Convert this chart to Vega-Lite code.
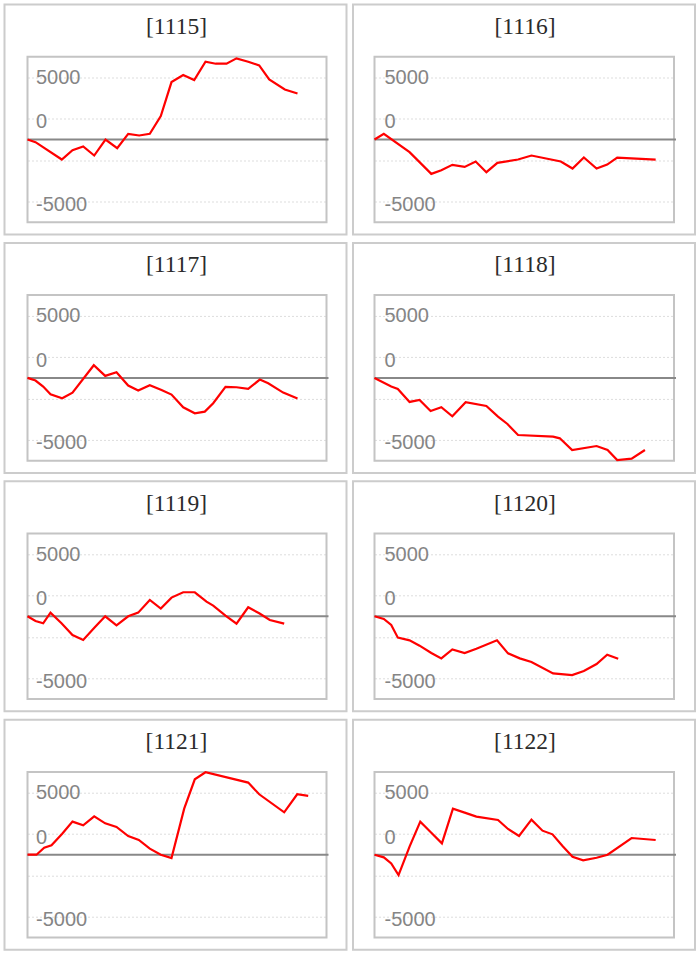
{
  "$schema": "https://vega.github.io/schema/vega-lite/v6.json",
  "background": "white",
  "padding": {"left": 3.5, "top": 3.5, "right": 0, "bottom": 0},
  "datasets": {
    "series": [
      {"day": "1115", "t": 0, "v": 0}, {"day": "1115", "t": 8, "v": -215}, {"day": "1115", "t": 34.3, "v": -1613}, {"day": "1115", "t": 45, "v": -860}, {"day": "1115", "t": 55.7, "v": -565}, {"day": "1115", "t": 66.7, "v": -1290}, {"day": "1115", "t": 78, "v": 0}, {"day": "1115", "t": 89.7, "v": -699}, {"day": "1115", "t": 100.7, "v": 457}, {"day": "1115", "t": 111.7, "v": 323}, {"day": "1115", "t": 122.3, "v": 457}, {"day": "1115", "t": 133.3, "v": 1882}, {"day": "1115", "t": 144, "v": 4623}, {"day": "1115", "t": 155.7, "v": 5188}, {"day": "1115", "t": 166.7, "v": 4785}, {"day": "1115", "t": 178, "v": 6263}, {"day": "1115", "t": 188.3, "v": 6102}, {"day": "1115", "t": 199, "v": 6102}, {"day": "1115", "t": 209, "v": 6532}, {"day": "1115", "t": 220.7, "v": 6263}, {"day": "1115", "t": 231.7, "v": 5968}, {"day": "1115", "t": 241.7, "v": 4838}, {"day": "1115", "t": 257.3, "v": 4032}, {"day": "1115", "t": 270, "v": 3709},
      {"day": "1116", "t": 0, "v": 0}, {"day": "1116", "t": 9.3, "v": 457}, {"day": "1116", "t": 35, "v": -1021}, {"day": "1116", "t": 56.7, "v": -2769}, {"day": "1116", "t": 66.7, "v": -2473}, {"day": "1116", "t": 77.7, "v": -2043}, {"day": "1116", "t": 90, "v": -2204}, {"day": "1116", "t": 101, "v": -1774}, {"day": "1116", "t": 111.7, "v": -2634}, {"day": "1116", "t": 122.7, "v": -1882}, {"day": "1116", "t": 143.3, "v": -1613}, {"day": "1116", "t": 156.7, "v": -1290}, {"day": "1116", "t": 186, "v": -1774}, {"day": "1116", "t": 197.7, "v": -2339}, {"day": "1116", "t": 209, "v": -1452}, {"day": "1116", "t": 221.7, "v": -2339}, {"day": "1116", "t": 232.3, "v": -2016}, {"day": "1116", "t": 242.3, "v": -1452}, {"day": "1116", "t": 280.7, "v": -1613},
      {"day": "1117", "t": 0, "v": 0}, {"day": "1117", "t": 8, "v": -215}, {"day": "1117", "t": 15.7, "v": -699}, {"day": "1117", "t": 23, "v": -1317}, {"day": "1117", "t": 34.7, "v": -1640}, {"day": "1117", "t": 45, "v": -1183}, {"day": "1117", "t": 66.3, "v": 1021}, {"day": "1117", "t": 77.7, "v": 161}, {"day": "1117", "t": 89, "v": 457}, {"day": "1117", "t": 100.7, "v": -618}, {"day": "1117", "t": 110.7, "v": -1021}, {"day": "1117", "t": 122.3, "v": -591}, {"day": "1117", "t": 134, "v": -968}, {"day": "1117", "t": 144, "v": -1344}, {"day": "1117", "t": 155.7, "v": -2365}, {"day": "1117", "t": 167.3, "v": -2849}, {"day": "1117", "t": 177.3, "v": -2715}, {"day": "1117", "t": 185.7, "v": -2043}, {"day": "1117", "t": 198, "v": -726}, {"day": "1117", "t": 209, "v": -753}, {"day": "1117", "t": 220.7, "v": -887}, {"day": "1117", "t": 232.3, "v": -134}, {"day": "1117", "t": 240.7, "v": -430}, {"day": "1117", "t": 255.7, "v": -1183}, {"day": "1117", "t": 270, "v": -1667},
      {"day": "1118", "t": 0, "v": 0}, {"day": "1118", "t": 16.7, "v": -699}, {"day": "1118", "t": 23.3, "v": -887}, {"day": "1118", "t": 35, "v": -1935}, {"day": "1118", "t": 45, "v": -1774}, {"day": "1118", "t": 56, "v": -2661}, {"day": "1118", "t": 66.7, "v": -2365}, {"day": "1118", "t": 77.7, "v": -3091}, {"day": "1118", "t": 91, "v": -1962}, {"day": "1118", "t": 111.7, "v": -2258}, {"day": "1118", "t": 123.3, "v": -3118}, {"day": "1118", "t": 132.7, "v": -3709}, {"day": "1118", "t": 143.3, "v": -4596}, {"day": "1118", "t": 178.3, "v": -4731}, {"day": "1118", "t": 185, "v": -4865}, {"day": "1118", "t": 197.3, "v": -5806}, {"day": "1118", "t": 221.7, "v": -5484}, {"day": "1118", "t": 232.7, "v": -5806}, {"day": "1118", "t": 242.3, "v": -6612}, {"day": "1118", "t": 256.7, "v": -6505}, {"day": "1118", "t": 270, "v": -5806},
      {"day": "1119", "t": 0, "v": 0}, {"day": "1119", "t": 8, "v": -376}, {"day": "1119", "t": 15.7, "v": -564}, {"day": "1119", "t": 23, "v": 296}, {"day": "1119", "t": 34, "v": -564}, {"day": "1119", "t": 45, "v": -1505}, {"day": "1119", "t": 55.7, "v": -1908}, {"day": "1119", "t": 67.3, "v": -887}, {"day": "1119", "t": 77.7, "v": 0}, {"day": "1119", "t": 89, "v": -726}, {"day": "1119", "t": 100.7, "v": 0}, {"day": "1119", "t": 110.7, "v": 296}, {"day": "1119", "t": 122.3, "v": 1317}, {"day": "1119", "t": 133.3, "v": 618}, {"day": "1119", "t": 144, "v": 1505}, {"day": "1119", "t": 155.7, "v": 1935}, {"day": "1119", "t": 167.3, "v": 1935}, {"day": "1119", "t": 179, "v": 1183}, {"day": "1119", "t": 185.7, "v": 860}, {"day": "1119", "t": 198, "v": 54}, {"day": "1119", "t": 209, "v": -591}, {"day": "1119", "t": 220.7, "v": 726}, {"day": "1119", "t": 231.7, "v": 242}, {"day": "1119", "t": 242.3, "v": -296}, {"day": "1119", "t": 256.7, "v": -591},
      {"day": "1120", "t": 0, "v": 0}, {"day": "1120", "t": 9.3, "v": -215}, {"day": "1120", "t": 16.7, "v": -699}, {"day": "1120", "t": 23.3, "v": -1720}, {"day": "1120", "t": 35, "v": -1935}, {"day": "1120", "t": 45, "v": -2365}, {"day": "1120", "t": 56.7, "v": -2957}, {"day": "1120", "t": 66.7, "v": -3387}, {"day": "1120", "t": 77.7, "v": -2661}, {"day": "1120", "t": 90, "v": -2957}, {"day": "1120", "t": 101.7, "v": -2607}, {"day": "1120", "t": 122.3, "v": -1935}, {"day": "1120", "t": 133.3, "v": -2984}, {"day": "1120", "t": 145, "v": -3387}, {"day": "1120", "t": 156.7, "v": -3683}, {"day": "1120", "t": 178.3, "v": -4596}, {"day": "1120", "t": 197.3, "v": -4731}, {"day": "1120", "t": 209, "v": -4409}, {"day": "1120", "t": 221.7, "v": -3844}, {"day": "1120", "t": 232.3, "v": -3091}, {"day": "1120", "t": 243.3, "v": -3414},
      {"day": "1121", "t": 0, "v": 0}, {"day": "1121", "t": 9, "v": 0}, {"day": "1121", "t": 16.7, "v": 564}, {"day": "1121", "t": 24, "v": 753}, {"day": "1121", "t": 34.7, "v": 1693}, {"day": "1121", "t": 45, "v": 2661}, {"day": "1121", "t": 55.7, "v": 2365}, {"day": "1121", "t": 66.7, "v": 3091}, {"day": "1121", "t": 77.7, "v": 2527}, {"day": "1121", "t": 89, "v": 2231}, {"day": "1121", "t": 100.7, "v": 1505}, {"day": "1121", "t": 111.3, "v": 1183}, {"day": "1121", "t": 122.3, "v": 484}, {"day": "1121", "t": 133.3, "v": 0}, {"day": "1121", "t": 144, "v": -269}, {"day": "1121", "t": 156.7, "v": 3709}, {"day": "1121", "t": 167.3, "v": 6075}, {"day": "1121", "t": 178, "v": 6640}, {"day": "1121", "t": 220.7, "v": 5806}, {"day": "1121", "t": 231.7, "v": 4865}, {"day": "1121", "t": 256.7, "v": 3414}, {"day": "1121", "t": 269.7, "v": 4865}, {"day": "1121", "t": 280.7, "v": 4731},
      {"day": "1122", "t": 0, "v": 0}, {"day": "1122", "t": 9.3, "v": -215}, {"day": "1122", "t": 16.7, "v": -699}, {"day": "1122", "t": 24, "v": -1640}, {"day": "1122", "t": 35, "v": 645}, {"day": "1122", "t": 45.7, "v": 2661}, {"day": "1122", "t": 56.7, "v": 1774}, {"day": "1122", "t": 67.3, "v": 914}, {"day": "1122", "t": 78.3, "v": 3709}, {"day": "1122", "t": 90, "v": 3387}, {"day": "1122", "t": 101.7, "v": 3064}, {"day": "1122", "t": 123.3, "v": 2796}, {"day": "1122", "t": 133.3, "v": 2070}, {"day": "1122", "t": 144.3, "v": 1505}, {"day": "1122", "t": 156.7, "v": 2822}, {"day": "1122", "t": 167.7, "v": 1935}, {"day": "1122", "t": 177.7, "v": 1640}, {"day": "1122", "t": 187.7, "v": 699}, {"day": "1122", "t": 197.7, "v": -161}, {"day": "1122", "t": 208.3, "v": -457}, {"day": "1122", "t": 221.7, "v": -242}, {"day": "1122", "t": 232.7, "v": 0}, {"day": "1122", "t": 256.7, "v": 1344}, {"day": "1122", "t": 280.7, "v": 1183}
    ],
    "frame": [{"k": 1}]
  },
  "columns": 2,
  "spacing": {"column": 4.5, "row": 6.4},
  "config": {
    "view": {"stroke": "#cccccc", "strokeWidth": 2},
    "line": {"color": "#ff0000", "strokeWidth": 2.2},
    "rule": {"color": "#888888", "strokeWidth": 2},
    "title": {"font": "Liberation Serif", "fontSize": 23.5, "fontWeight": "normal", "color": "#2b2b2b", "anchor": "middle", "offset": -34, "baseline": "alphabetic", "dx": 1},
    "axisY": {
      "domain": false,
      "ticks": false,
      "grid": true,
      "gridColor": "#dddddd",
      "gridDash": [2, 2],
      "gridWidth": 1,
      "labelAlign": "left",
      "labelBaseline": "middle",
      "labelPadding": -31,
      "labelOffset": {"condition": {"test": "datum.value < 3000", "value": 3}, "value": 0},
      "labelFont": "Liberation Sans",
      "labelFontSize": 20,
      "labelColor": "#858585",
      "labelOverlap": false,
      "labelBound": false,
      "title": null
    }
  },
  "concat": [
    {"width": 342, "height": 230, "title": {"text": "[1115]"},
      "layer": [
        {"data": {"name": "frame"}, "mark": {"type": "rect", "filled": false, "stroke": "#c4c4c4", "strokeWidth": 2},
          "encoding": {"x": {"datum": 0, "type": "quantitative", "scale": {"domain": [0, 299], "range": [23, 322], "nice": false, "zero": false}, "axis": null}, "x2": {"datum": 299}, "y": {"datum": -6667, "type": "quantitative", "scale": {"domain": [-6667, 6667], "range": [217.8, 52.2], "nice": false, "zero": false}, "axis": {"values": [-5000, -3333.333, -1666.667, 0, 1666.667, 3333.333, 5000], "labelExpr": "abs(datum.value-5000)<1 ? '5000' : abs(datum.value-1666.667)<1 ? '0' : abs(datum.value+5000)<1 ? '-5000' : ''"}}, "y2": {"datum": 6667}}},
        {"data": {"name": "frame"}, "mark": "rule", "encoding": {"x": {"datum": 0}, "x2": {"datum": 301}, "y": {"datum": 0}}},
        {"data": {"name": "series"}, "transform": [{"filter": "datum.day == '1115'"}], "mark": "line",
          "encoding": {"x": {"field": "t", "type": "quantitative"}, "y": {"field": "v", "type": "quantitative"}}}
      ]},
    {"width": 342, "height": 230, "title": {"text": "[1116]"},
      "layer": [
        {"data": {"name": "frame"}, "mark": {"type": "rect", "filled": false, "stroke": "#c4c4c4", "strokeWidth": 2},
          "encoding": {"x": {"datum": 0, "type": "quantitative", "scale": {"domain": [0, 299], "range": [21.5, 321], "nice": false, "zero": false}, "axis": null}, "x2": {"datum": 299}, "y": {"datum": -6667, "type": "quantitative", "scale": {"domain": [-6667, 6667], "range": [217.8, 52.2], "nice": false, "zero": false}, "axis": {"values": [-5000, -3333.333, -1666.667, 0, 1666.667, 3333.333, 5000], "labelExpr": "abs(datum.value-5000)<1 ? '5000' : abs(datum.value-1666.667)<1 ? '0' : abs(datum.value+5000)<1 ? '-5000' : ''"}}, "y2": {"datum": 6667}}},
        {"data": {"name": "frame"}, "mark": "rule", "encoding": {"x": {"datum": 0}, "x2": {"datum": 301}, "y": {"datum": 0}}},
        {"data": {"name": "series"}, "transform": [{"filter": "datum.day == '1116'"}], "mark": "line",
          "encoding": {"x": {"field": "t", "type": "quantitative"}, "y": {"field": "v", "type": "quantitative"}}}
      ]},
    {"width": 342, "height": 230, "title": {"text": "[1117]"},
      "layer": [
        {"data": {"name": "frame"}, "mark": {"type": "rect", "filled": false, "stroke": "#c4c4c4", "strokeWidth": 2},
          "encoding": {"x": {"datum": 0, "type": "quantitative", "scale": {"domain": [0, 299], "range": [23, 322], "nice": false, "zero": false}, "axis": null}, "x2": {"datum": 299}, "y": {"datum": -6667, "type": "quantitative", "scale": {"domain": [-6667, 6667], "range": [217.8, 52.2], "nice": false, "zero": false}, "axis": {"values": [-5000, -3333.333, -1666.667, 0, 1666.667, 3333.333, 5000], "labelExpr": "abs(datum.value-5000)<1 ? '5000' : abs(datum.value-1666.667)<1 ? '0' : abs(datum.value+5000)<1 ? '-5000' : ''"}}, "y2": {"datum": 6667}}},
        {"data": {"name": "frame"}, "mark": "rule", "encoding": {"x": {"datum": 0}, "x2": {"datum": 301}, "y": {"datum": 0}}},
        {"data": {"name": "series"}, "transform": [{"filter": "datum.day == '1117'"}], "mark": "line",
          "encoding": {"x": {"field": "t", "type": "quantitative"}, "y": {"field": "v", "type": "quantitative"}}}
      ]},
    {"width": 342, "height": 230, "title": {"text": "[1118]"},
      "layer": [
        {"data": {"name": "frame"}, "mark": {"type": "rect", "filled": false, "stroke": "#c4c4c4", "strokeWidth": 2},
          "encoding": {"x": {"datum": 0, "type": "quantitative", "scale": {"domain": [0, 299], "range": [21.5, 321], "nice": false, "zero": false}, "axis": null}, "x2": {"datum": 299}, "y": {"datum": -6667, "type": "quantitative", "scale": {"domain": [-6667, 6667], "range": [217.8, 52.2], "nice": false, "zero": false}, "axis": {"values": [-5000, -3333.333, -1666.667, 0, 1666.667, 3333.333, 5000], "labelExpr": "abs(datum.value-5000)<1 ? '5000' : abs(datum.value-1666.667)<1 ? '0' : abs(datum.value+5000)<1 ? '-5000' : ''"}}, "y2": {"datum": 6667}}},
        {"data": {"name": "frame"}, "mark": "rule", "encoding": {"x": {"datum": 0}, "x2": {"datum": 301}, "y": {"datum": 0}}},
        {"data": {"name": "series"}, "transform": [{"filter": "datum.day == '1118'"}], "mark": "line",
          "encoding": {"x": {"field": "t", "type": "quantitative"}, "y": {"field": "v", "type": "quantitative"}}}
      ]},
    {"width": 342, "height": 230, "title": {"text": "[1119]"},
      "layer": [
        {"data": {"name": "frame"}, "mark": {"type": "rect", "filled": false, "stroke": "#c4c4c4", "strokeWidth": 2},
          "encoding": {"x": {"datum": 0, "type": "quantitative", "scale": {"domain": [0, 299], "range": [23, 322], "nice": false, "zero": false}, "axis": null}, "x2": {"datum": 299}, "y": {"datum": -6667, "type": "quantitative", "scale": {"domain": [-6667, 6667], "range": [217.8, 52.2], "nice": false, "zero": false}, "axis": {"values": [-5000, -3333.333, -1666.667, 0, 1666.667, 3333.333, 5000], "labelExpr": "abs(datum.value-5000)<1 ? '5000' : abs(datum.value-1666.667)<1 ? '0' : abs(datum.value+5000)<1 ? '-5000' : ''"}}, "y2": {"datum": 6667}}},
        {"data": {"name": "frame"}, "mark": "rule", "encoding": {"x": {"datum": 0}, "x2": {"datum": 301}, "y": {"datum": 0}}},
        {"data": {"name": "series"}, "transform": [{"filter": "datum.day == '1119'"}], "mark": "line",
          "encoding": {"x": {"field": "t", "type": "quantitative"}, "y": {"field": "v", "type": "quantitative"}}}
      ]},
    {"width": 342, "height": 230, "title": {"text": "[1120]"},
      "layer": [
        {"data": {"name": "frame"}, "mark": {"type": "rect", "filled": false, "stroke": "#c4c4c4", "strokeWidth": 2},
          "encoding": {"x": {"datum": 0, "type": "quantitative", "scale": {"domain": [0, 299], "range": [21.5, 321], "nice": false, "zero": false}, "axis": null}, "x2": {"datum": 299}, "y": {"datum": -6667, "type": "quantitative", "scale": {"domain": [-6667, 6667], "range": [217.8, 52.2], "nice": false, "zero": false}, "axis": {"values": [-5000, -3333.333, -1666.667, 0, 1666.667, 3333.333, 5000], "labelExpr": "abs(datum.value-5000)<1 ? '5000' : abs(datum.value-1666.667)<1 ? '0' : abs(datum.value+5000)<1 ? '-5000' : ''"}}, "y2": {"datum": 6667}}},
        {"data": {"name": "frame"}, "mark": "rule", "encoding": {"x": {"datum": 0}, "x2": {"datum": 301}, "y": {"datum": 0}}},
        {"data": {"name": "series"}, "transform": [{"filter": "datum.day == '1120'"}], "mark": "line",
          "encoding": {"x": {"field": "t", "type": "quantitative"}, "y": {"field": "v", "type": "quantitative"}}}
      ]},
    {"width": 342, "height": 230, "title": {"text": "[1121]"},
      "layer": [
        {"data": {"name": "frame"}, "mark": {"type": "rect", "filled": false, "stroke": "#c4c4c4", "strokeWidth": 2},
          "encoding": {"x": {"datum": 0, "type": "quantitative", "scale": {"domain": [0, 299], "range": [23, 322], "nice": false, "zero": false}, "axis": null}, "x2": {"datum": 299}, "y": {"datum": -6667, "type": "quantitative", "scale": {"domain": [-6667, 6667], "range": [217.8, 52.2], "nice": false, "zero": false}, "axis": {"values": [-5000, -3333.333, -1666.667, 0, 1666.667, 3333.333, 5000], "labelExpr": "abs(datum.value-5000)<1 ? '5000' : abs(datum.value-1666.667)<1 ? '0' : abs(datum.value+5000)<1 ? '-5000' : ''"}}, "y2": {"datum": 6667}}},
        {"data": {"name": "frame"}, "mark": "rule", "encoding": {"x": {"datum": 0}, "x2": {"datum": 301}, "y": {"datum": 0}}},
        {"data": {"name": "series"}, "transform": [{"filter": "datum.day == '1121'"}], "mark": "line",
          "encoding": {"x": {"field": "t", "type": "quantitative"}, "y": {"field": "v", "type": "quantitative"}}}
      ]},
    {"width": 342, "height": 230, "title": {"text": "[1122]"},
      "layer": [
        {"data": {"name": "frame"}, "mark": {"type": "rect", "filled": false, "stroke": "#c4c4c4", "strokeWidth": 2},
          "encoding": {"x": {"datum": 0, "type": "quantitative", "scale": {"domain": [0, 299], "range": [21.5, 321], "nice": false, "zero": false}, "axis": null}, "x2": {"datum": 299}, "y": {"datum": -6667, "type": "quantitative", "scale": {"domain": [-6667, 6667], "range": [217.8, 52.2], "nice": false, "zero": false}, "axis": {"values": [-5000, -3333.333, -1666.667, 0, 1666.667, 3333.333, 5000], "labelExpr": "abs(datum.value-5000)<1 ? '5000' : abs(datum.value-1666.667)<1 ? '0' : abs(datum.value+5000)<1 ? '-5000' : ''"}}, "y2": {"datum": 6667}}},
        {"data": {"name": "frame"}, "mark": "rule", "encoding": {"x": {"datum": 0}, "x2": {"datum": 301}, "y": {"datum": 0}}},
        {"data": {"name": "series"}, "transform": [{"filter": "datum.day == '1122'"}], "mark": "line",
          "encoding": {"x": {"field": "t", "type": "quantitative"}, "y": {"field": "v", "type": "quantitative"}}}
      ]}
  ]
}
